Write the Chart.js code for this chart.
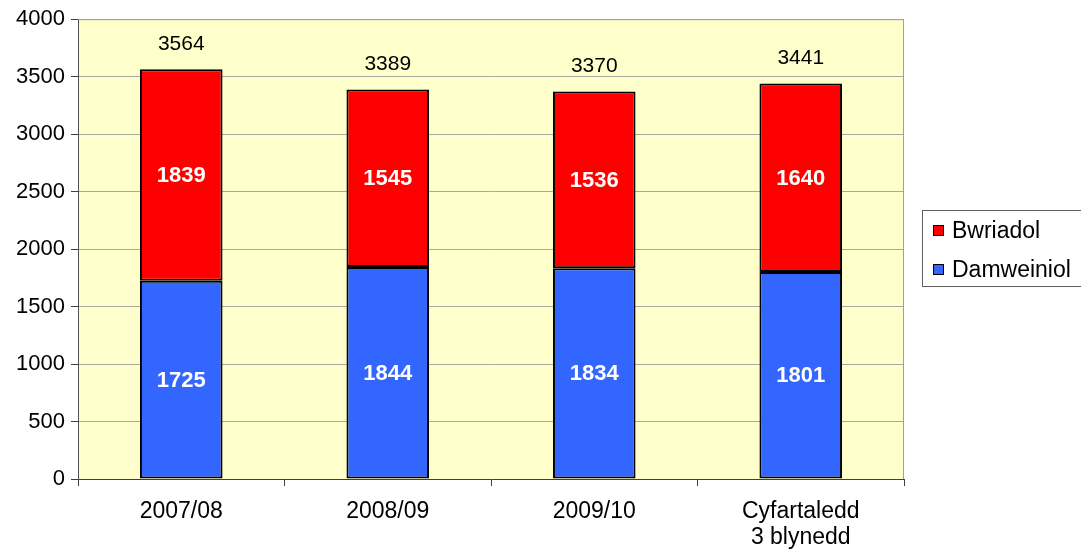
<!DOCTYPE html>
<html>
<head>
<meta charset="utf-8">
<script src="https://cdn.jsdelivr.net/npm/chart.js@4/dist/chart.umd.min.js"></script>
<style>
  html, body { margin: 0; padding: 0; background: #fff; }
  #wrap { width: 1081px; height: 551px; }
</style>
</head>
<body>
<div id="wrap"><canvas id="barCanvas" width="1081" height="551"></canvas></div>
<script>
// chart data
let categories = ['2007/08', '2008/09', '2009/10', ['Cyfartaledd', '3 blynedd']];
let damweiniolData = [1725, 1844, 1834, 1801];
let bwriadolData = [1839, 1545, 1536, 1640];
let yTicks = [0, 500, 1000, 1500, 2000, 2500, 3000, 3500, 4000];

let FONT = '"Liberation Sans", Arial, sans-serif';

// fill plot area yellow and draw the top/right frame
const plotBackground = {
  id: 'plotBackground',
  beforeDraw(chart) {
    const { ctx, chartArea: a } = chart;
    ctx.save();
    ctx.fillStyle = '#FFFFCC';
    ctx.fillRect(a.left, a.top, a.right - a.left, a.bottom - a.top);
    ctx.restore();
  },
  afterDatasetsDraw(chart) {
    const { ctx, chartArea: a } = chart;
    ctx.save();
    ctx.strokeStyle = '#a0a0a0';
    ctx.lineWidth = 1;
    ctx.beginPath();
    ctx.moveTo(a.left, a.top + 0.5);
    ctx.lineTo(a.right - 0.5, a.top + 0.5);
    ctx.lineTo(a.right - 0.5, a.bottom);
    ctx.stroke();
    ctx.restore();
  }
};

// value labels: white bold inside segments, totals above the bars
const barLabels = {
  id: 'barLabels',
  afterDatasetsDraw(chart) {
    const { ctx } = chart;
    const y = chart.scales.y;
    ctx.save();
    ctx.textAlign = 'center';
    ctx.textBaseline = 'middle';
    chart.data.datasets.forEach((ds, di) => {
      const meta = chart.getDatasetMeta(di);
      meta.data.forEach((bar, i) => {
        const mid = (bar.y + bar.base) / 2;
        ctx.fillStyle = '#ffffff';
        ctx.font = 'bold 22px ' + FONT;
        ctx.fillText(String(ds.data[i]), bar.x, mid + 1);
      });
    });
    const top = chart.getDatasetMeta(chart.data.datasets.length - 1);
    top.data.forEach((bar, i) => {
      const total = damweiniolData[i] + bwriadolData[i];
      ctx.fillStyle = '#000000';
      ctx.font = '21px ' + FONT;
      ctx.fillText(String(total), bar.x, y.getPixelForValue(total) - 25);
    });
    ctx.restore();
  }
};

// boxed legend on the right, top entry is the top of the stack
const boxLegend = {
  id: 'boxLegend',
  afterDraw(chart) {
    const { ctx } = chart;
    const x0 = 922.5, y0 = 210.5, w = 160, h = 76;
    ctx.save();
    ctx.fillStyle = '#ffffff';
    ctx.fillRect(x0, y0, w, h);
    ctx.strokeStyle = '#606060';
    ctx.lineWidth = 1;
    ctx.strokeRect(x0, y0, w, h);
    const items = chart.data.datasets.slice().reverse();
    items.forEach((ds, i) => {
      const cy = 231 + i * 39;
      ctx.fillStyle = ds.backgroundColor;
      ctx.fillRect(933, cy - 6, 11, 11);
      ctx.strokeStyle = '#000';
      ctx.strokeRect(933.5, cy - 5.5, 10, 10);
      ctx.fillStyle = '#000';
      ctx.font = '23px ' + FONT;
      ctx.textAlign = 'left';
      ctx.textBaseline = 'middle';
      ctx.fillText(ds.label, 952, cy + 1);
    });
    ctx.restore();
  }
};

let barChart = new Chart(document.getElementById('barCanvas').getContext('2d'), {
  type: 'bar',
  data: {
    labels: categories,
    datasets: [
      {
        label: 'Damweiniol',
        data: damweiniolData,
        backgroundColor: '#3366FF',
        borderColor: '#000000',
        borderWidth: 2,
        borderSkipped: false,
        barPercentage: 0.8,
        categoryPercentage: 0.5
      },
      {
        label: 'Bwriadol',
        data: bwriadolData,
        backgroundColor: '#FF0000',
        borderColor: '#000000',
        borderWidth: 2,
        borderSkipped: false,
        barPercentage: 0.8,
        categoryPercentage: 0.5
      }
    ]
  },
  options: {
    responsive: false,
    maintainAspectRatio: false,
    animation: false,
    layout: { padding: { top: 19, right: 177, left: 0, bottom: 0 } },
    plugins: {
      legend: { display: false },
      tooltip: { enabled: false }
    },
    scales: {
      x: {
        stacked: true,
        afterFit(scale) { scale.height = 72; },
        grid: {
          offset: true,
          drawOnChartArea: false,
          drawTicks: true,
          tickLength: 7,
          color: '#404040'
        },
        border: { color: '#404040', width: 1 },
        ticks: {
          color: '#000',
          font: { family: FONT, size: 23, lineHeight: 1.15 },
          padding: 12,
          maxRotation: 0
        }
      },
      y: {
        stacked: true,
        min: 0,
        max: 4000,
        afterFit(scale) { scale.width = 78; },
        afterBuildTicks(scale) { scale.ticks = yTicks.map(v => ({ value: v })); },
        grid: {
          color: '#a8a8a0',
          drawTicks: true,
          tickLength: 7,
          tickColor: '#404040'
        },
        border: { color: '#505050', width: 1 },
        ticks: {
          color: '#000',
          font: { family: FONT, size: 22 },
          padding: 6,
          callback: v => String(v)
        }
      }
    }
  },
  plugins: [plotBackground, barLabels, boxLegend]
});
</script>
</body>
</html>
